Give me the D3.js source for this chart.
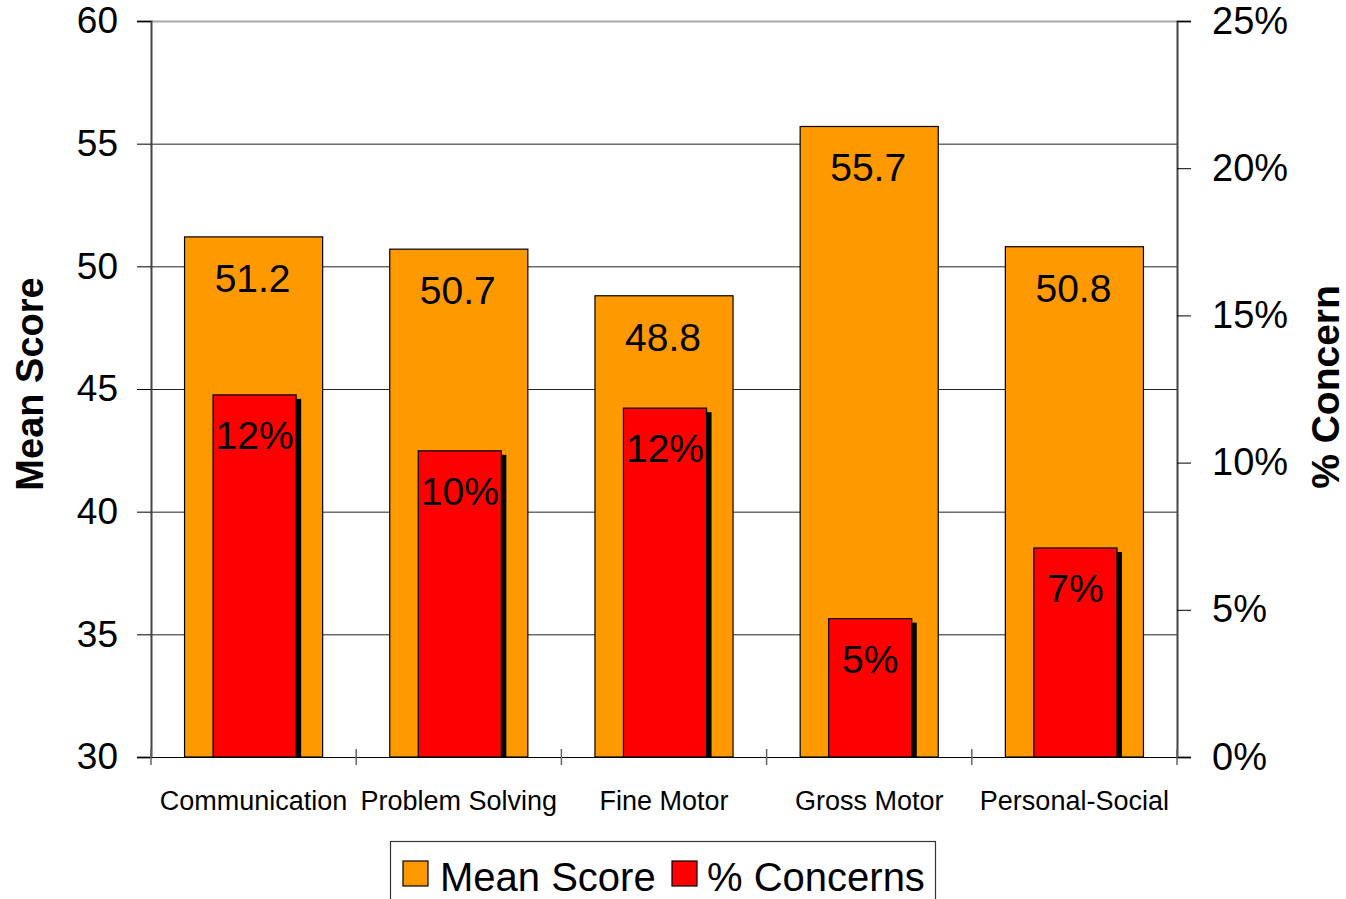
<!DOCTYPE html>
<html>
<head>
<meta charset="utf-8">
<script src="https://cdn.jsdelivr.net/npm/d3@7"></script>
<style>
  html, body { margin: 0; padding: 0; background: #fff; }
  svg { display: block; font-family: "Liberation Sans", Arial, sans-serif; }
</style>
</head>
<body>
<svg id="chart" width="1346" height="899"></svg>
<script>
// Domains, mean scores and share of children flagged for concern
const categories = ["Communication", "Problem Solving", "Fine Motor", "Gross Motor", "Personal-Social"];
const meanScores = [51.2, 50.7, 48.8, 55.7, 50.8];
const concernShares = [0.123, 0.104, 0.1185, 0.047, 0.071];
const leftTicks = [30, 35, 40, 45, 50, 55, 60];
const rightTicks = [0, 0.05, 0.10, 0.15, 0.20, 0.25];
const seriesNames = ["Mean Score", "% Concerns"];

const ORANGE = "#FF9900", RED = "#FF0000";
const FONT = "Liberation Sans, Arial, sans-serif";
const svg = d3.select("#chart");
const plot = { left: 151, right: 1177, top: 21, bottom: 757 };

const x = d3.scaleBand().domain(categories).range([plot.left, plot.right]);
const yLeft = d3.scaleLinear().domain([30, 60]).range([plot.bottom, plot.top]);
const yRight = d3.scaleLinear().domain([0, 0.25]).range([plot.bottom, plot.top]);

// Horizontal gridlines
svg.append("g").selectAll("line").data(leftTicks.filter(t => t > 30)).join("line")
  .attr("x1", plot.left).attr("x2", plot.right)
  .attr("y1", d => yLeft(d) + 0.5).attr("y2", d => yLeft(d) + 0.5)
  .attr("stroke", d => d === 60 ? "#aaa" : "#222").attr("stroke-width", d => d === 60 ? 2 : 1);

// Mean score bars
const outerW = x.bandwidth() * 0.673;
const innerW = x.bandwidth() * 0.405;
const gMean = svg.append("g");
gMean.selectAll("rect").data(categories).join("rect")
  .attr("x", d => x(d) + (x.bandwidth() - outerW) / 2)
  .attr("y", (d, i) => yLeft(meanScores[i]))
  .attr("width", outerW)
  .attr("height", (d, i) => plot.bottom - yLeft(meanScores[i]))
  .attr("fill", ORANGE).attr("stroke", "#000").attr("stroke-width", 1.2);
gMean.selectAll("text").data(categories).join("text")
  .attr("x", d => x(d) + x.bandwidth() / 2 - 1)
  .attr("y", (d, i) => yLeft(meanScores[i]) + 55)
  .attr("text-anchor", "middle").attr("font-size", 39).attr("fill", "#000")
  .text((d, i) => d3.format(".1f")(meanScores[i]));

// Concern bars with drop shadow
const gConc = svg.append("g");
const innerX = d => x(d) + (x.bandwidth() - innerW) / 2 + 1;
gConc.selectAll("rect.shadow").data(categories).join("rect").attr("class", "shadow")
  .attr("x", d => innerX(d) + 5)
  .attr("y", (d, i) => yRight(concernShares[i]) + 4)
  .attr("width", innerW)
  .attr("height", (d, i) => plot.bottom - yRight(concernShares[i]) - 4)
  .attr("fill", "#000");
gConc.selectAll("rect.bar").data(categories).join("rect").attr("class", "bar")
  .attr("x", innerX)
  .attr("y", (d, i) => yRight(concernShares[i]))
  .attr("width", innerW)
  .attr("height", (d, i) => plot.bottom - yRight(concernShares[i]))
  .attr("fill", RED).attr("stroke", "#000").attr("stroke-width", 1.2);
gConc.selectAll("text").data(categories).join("text")
  .attr("x", d => innerX(d) + innerW / 2)
  .attr("y", (d, i) => yRight(concernShares[i]) + 54)
  .attr("text-anchor", "middle").attr("font-size", 39).attr("fill", "#000")
  .text((d, i) => d3.format(".0%")(concernShares[i]));

// Left axis
const axL = svg.append("g").attr("transform", `translate(${plot.left},0)`)
  .call(d3.axisLeft(yLeft).tickValues(leftTicks).tickSize(14).tickPadding(19));
axL.select(".domain").attr("stroke", "#444").attr("stroke-width", 2);
axL.selectAll(".tick line").attr("stroke", "#000");
axL.selectAll(".tick text").attr("font-size", 37).attr("fill", "#000").attr("font-family", FONT);

// Right axis
const axR = svg.append("g").attr("transform", `translate(${plot.right},0)`)
  .call(d3.axisRight(yRight).tickValues(rightTicks).tickFormat(d3.format(".0%")).tickSize(14).tickPadding(21));
axR.select(".domain").attr("stroke", "#444").attr("stroke-width", 2);
axR.selectAll(".tick line").attr("stroke", "#000");
axR.selectAll(".tick text").attr("font-size", 38).attr("fill", "#000").attr("font-family", FONT);

// Category axis, ticks at band boundaries
const axB = svg.append("g").attr("transform", `translate(0,${plot.bottom})`);
axB.append("line").attr("x1", plot.left - 14).attr("x2", plot.right + 14)
  .attr("y1", 0.5).attr("y2", 0.5).attr("stroke", "#000").attr("stroke-width", 1.2);
const bounds = categories.map(d => x(d)).concat([plot.right]);
axB.selectAll("line.tk").data(bounds).join("line").attr("class", "tk")
  .attr("x1", d => d).attr("x2", d => d).attr("y1", -8).attr("y2", 8)
  .attr("stroke", "#666").attr("stroke-width", 1.5);
axB.selectAll("text").data(categories).join("text")
  .attr("x", d => x(d) + x.bandwidth() / 2)
  .attr("y", 53).attr("text-anchor", "middle").attr("font-size", 27).attr("fill", "#000")
  .text(d => d);

// Axis titles
svg.append("text").attr("transform", "translate(43,384) rotate(-90)")
  .attr("text-anchor", "middle").attr("font-size", 38).attr("font-weight", "bold")
  .text("Mean Score");
svg.append("text").attr("transform", "translate(1339,387) rotate(-90)")
  .attr("text-anchor", "middle").attr("font-size", 39).attr("font-weight", "bold")
  .text("% Concern");

// Legend
const lg = svg.append("g");
lg.append("rect").attr("x", 390.5).attr("y", 841.5).attr("width", 545).attr("height", 80)
  .attr("fill", "#fff").attr("stroke", "#333").attr("stroke-width", 1.2);
const items = [
  { name: seriesNames[0], color: ORANGE, x: 403, tx: 440 },
  { name: seriesNames[1], color: RED, x: 672, tx: 707 }
];
lg.selectAll("rect.sw").data(items).join("rect").attr("class", "sw")
  .attr("x", d => d.x).attr("y", 861).attr("width", 25).attr("height", 25)
  .attr("fill", d => d.color).attr("stroke", "#000").attr("stroke-width", 1.2);
lg.selectAll("text").data(items).join("text")
  .attr("x", d => d.tx).attr("y", 891).attr("font-size", 40).attr("fill", "#000")
  .text(d => d.name);
</script>
</body>
</html>
